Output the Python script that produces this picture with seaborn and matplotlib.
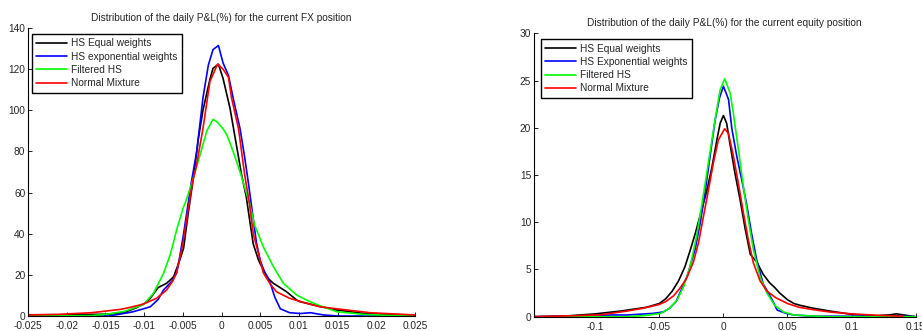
import numpy as np
import pandas as pd
import seaborn as sns
import matplotlib
matplotlib.use('Agg')
import matplotlib.pyplot as plt

# ---- FX position: kernel density curves ----
fx_eq_x = [-0.025, -0.0198, -0.0146, -0.0125, -0.011, -0.0099, -0.0092, -0.0082, -0.0071, -0.0062,
           -0.0055, -0.0049, -0.0043, -0.0036, -0.003, -0.0024, -0.0015, -0.0011, -0.0004, 0.0002,
           0.0011, 0.0017, 0.0026, 0.0032, 0.0037, 0.0041, 0.0048, 0.0054, 0.0061, 0.0067,
           0.0075, 0.0084, 0.0097, 0.0101, 0.0123, 0.0149, 0.0183, 0.0226, 0.025]
fx_eq_y = [0.6, 0.6, 0.9, 1.8, 4, 6.2, 8.6, 13.8, 15.9, 19,
           26, 33, 50, 68, 86, 100, 115, 120.4, 122.4, 115.5,
           101, 88, 68.5, 58, 45, 35, 27, 22.4, 18, 15.9,
           14, 11.8, 7.8, 7, 5, 2.9, 1.3, 0.4, 0.2]

fx_exp_x = [-0.025, -0.0146, -0.0133, -0.0122, -0.0114, -0.0099, -0.0092, -0.0082, -0.0075, -0.0064,
            -0.0058, -0.0054, -0.0049, -0.0045, -0.0039, -0.0032, -0.0024, -0.0017, -0.0011, -0.0004,
            0.0002, 0.0009, 0.0015, 0.0024, 0.003, 0.0035, 0.004, 0.0045, 0.005, 0.0056,
            0.0063, 0.0069, 0.0076, 0.0088, 0.0102, 0.0115, 0.0132, 0.015, 0.025]
fx_exp_y = [0, 0, 0.8, 1.5, 2.1, 3.7, 4.5, 8, 12.6, 17,
            21, 28.8, 40, 50, 65, 80, 106, 122, 129.5, 131.5,
            123, 117, 106, 91, 77, 64, 50, 36, 27, 21,
            16, 9, 3.5, 1.6, 1.2, 1.6, 0.5, 0, 0]

fx_fhs_x = [-0.025, -0.0168, -0.0146, -0.0125, -0.0101, -0.0088, -0.0075, -0.0066, -0.0058, -0.005,
            -0.0045, -0.0038, -0.0028, -0.0019, -0.0011, -0.0006, 0.0002, 0.0007, 0.0015, 0.0024,
            0.0028, 0.0036, 0.0043, 0.0054, 0.0067, 0.008, 0.0097, 0.0114, 0.0127, 0.0149,
            0.0183, 0.0226, 0.025]
fx_fhs_y = [0, 0.2, 1.0, 2.3, 5.5, 11, 20.7, 30, 41.8, 52,
            57, 65, 78, 90, 95.6, 94.5, 91, 88, 80, 70,
            65, 55, 44, 33.7, 24, 15.9, 10.2, 7, 5, 2.1,
            0.8, 0.15, 0]

fx_nm_x = [-0.025, -0.0211, -0.0168, -0.0131, -0.0118, -0.0101, -0.0084, -0.0071, -0.0063, -0.0058,
           -0.005, -0.0043, -0.0037, -0.0033, -0.0024, -0.0015, -0.0005, 0.0002, 0.0009, 0.0013,
           0.0022, 0.003, 0.0036, 0.0041, 0.0048, 0.0054, 0.0063, 0.0071, 0.0088, 0.011,
           0.0127, 0.0149, 0.0192, 0.025]
fx_nm_y = [0.5, 0.8, 1.6, 3.2, 4.2, 5.8, 8.6, 12.6, 17, 21,
           35, 52, 66, 72, 91, 114, 122.5, 120, 116, 106,
           91, 68.5, 55, 40, 30, 21, 15.5, 11.8, 8.6, 6.2,
           4.5, 3.5, 1.6, 0.5]

# ---- Equity position ----
eq_eq_x = [-0.148, -0.12, -0.1, -0.08, -0.06, -0.05, -0.045, -0.04, -0.035, -0.03,
           -0.026, -0.022, -0.018, -0.013, -0.009, -0.005, -0.0025, 0.0, 0.0025, 0.005,
           0.009, 0.013, 0.017, 0.021, 0.026, 0.031, 0.036, 0.04, 0.044, 0.05,
           0.055, 0.06, 0.07, 0.083, 0.1, 0.12, 0.13, 0.135, 0.14, 0.15]
eq_eq_y = [0, 0.1, 0.3, 0.6, 1.0, 1.4, 1.9, 2.7, 3.8, 5.3,
           7.0, 8.8, 10.8, 13.3, 15.8, 18.8, 20.5, 21.3, 20.5, 18.4,
           15.2, 12.4, 9.3, 6.6, 5.8, 4.5, 3.6, 3.1, 2.5, 1.8,
           1.4, 1.2, 0.9, 0.6, 0.25, 0.1, 0.2, 0.3, 0.2, 0]

eq_exp_x = [-0.148, -0.1, -0.088, -0.075, -0.055, -0.047, -0.042, -0.037, -0.033, -0.028,
            -0.022, -0.018, -0.0143, -0.0104, -0.0065, -0.003, 0.0, 0.004, 0.0065, 0.0104,
            0.0143, 0.018, 0.022, 0.026, 0.031, 0.038, 0.042, 0.049, 0.055, 0.07,
            0.1, 0.13, 0.15]
eq_exp_y = [0, 0.07, 0.18, 0.18, 0.35, 0.5, 0.9, 1.6, 2.8, 4.4,
            7.2, 10, 13.2, 17, 20.8, 23.2, 24.4, 23, 20, 17,
            14.5, 12, 8.8, 6, 3.5, 1.8, 0.7, 0.35, 0.18, 0.05,
            0.05, 0.1, 0]

eq_fhs_x = [-0.148, -0.075, -0.06, -0.049, -0.042, -0.036, -0.031, -0.026, -0.021, -0.017,
            -0.013, -0.009, -0.0052, -0.0026, 0.001, 0.0052, 0.0078, 0.0117, 0.0156, 0.0195,
            0.0234, 0.0286, 0.034, 0.04, 0.047, 0.055, 0.08, 0.15]
eq_fhs_y = [0, 0, 0.14, 0.35, 0.9, 1.8, 3.2, 5.3, 8.5, 11.7,
            15.2, 18.7, 21.9, 24, 25.2, 23.7, 21.5, 17.7, 13.8, 10.2,
            7.1, 4.2, 2.5, 1.2, 0.5, 0.18, 0, 0]

eq_nm_x = [-0.148, -0.117, -0.096, -0.075, -0.0625, -0.05, -0.045, -0.039, -0.034, -0.029,
           -0.0234, -0.0195, -0.0156, -0.0117, -0.0078, -0.004, 0.001, 0.004, 0.0078, 0.0117,
           0.0156, 0.0195, 0.0234, 0.0286, 0.034, 0.041, 0.05, 0.059, 0.07, 0.083,
           0.1, 0.12, 0.14]
eq_nm_y = [0, 0.1, 0.2, 0.6, 0.9, 1.3, 1.6, 2.2, 3.0, 4.0,
           5.8, 7.8, 10.6, 13.4, 16.3, 18.7, 19.9, 19.4, 17, 14.1,
           11, 8.1, 5.7, 3.8, 2.7, 2.0, 1.4, 1.0, 0.75, 0.5,
           0.3, 0.15, 0.05]

fx_labels = ['HS Equal weights', 'HS exponential weights', 'Filtered HS', 'Normal Mixture']
eq_labels = ['HS Equal weights', 'HS Exponential weights', 'Filtered HS', 'Normal Mixture']
colors = ['#000000', '#0000ff', '#00ff00', '#ff0000']

fx_curves = [(fx_eq_x, fx_eq_y), (fx_exp_x, fx_exp_y), (fx_fhs_x, fx_fhs_y), (fx_nm_x, fx_nm_y)]
eq_curves = [(eq_eq_x, eq_eq_y), (eq_exp_x, eq_exp_y), (eq_fhs_x, eq_fhs_y), (eq_nm_x, eq_nm_y)]

sns.set_style('white')
plt.rcParams['font.family'] = ['Liberation Sans', 'DejaVu Sans']
plt.rcParams['xtick.direction'] = 'in'
plt.rcParams['ytick.direction'] = 'in'

FS = 7.3

fig = plt.figure(figsize=(9.22, 3.31), dpi=100)
ax1 = fig.add_axes([0.0304, 0.0453, 0.4197, 0.870])
ax2 = fig.add_axes([0.579, 0.0432, 0.414, 0.856])


def draw(ax, curves, labels, title, anchor):
    for (x, y), lab, c in zip(curves, labels, colors):
        sns.lineplot(x=x, y=y, ax=ax, color=c, lw=1.2, label=lab, sort=False)
    ax.set_title(title, fontsize=FS, pad=5)
    sns.despine(ax=ax)
    for s in ['left', 'bottom']:
        ax.spines[s].set_color('black')
        ax.spines[s].set_linewidth(0.8)
    ax.tick_params(axis='both', labelsize=FS, length=3, width=0.6, color='black',
                   bottom=True, left=True)
    ax.tick_params(axis='x', pad=3.5)
    ax.tick_params(axis='y', pad=2)
    ax.set_xlabel('')
    ax.set_ylabel('')
    leg = ax.legend(loc='upper left', bbox_to_anchor=anchor, borderaxespad=0, fontsize=FS,
                    frameon=True, fancybox=False, framealpha=1, edgecolor='black',
                    handlelength=3.0, handletextpad=0.45, labelspacing=0.32, borderpad=0.45)
    leg.get_frame().set_linewidth(1.0)


draw(ax1, fx_curves, fx_labels, 'Distribution of the daily P&L(%) for the current FX position', (0.01, 0.98))
ax1.set_xlim(-0.025, 0.025)
ax1.set_ylim(0, 140)
ax1.set_xticks(np.arange(-0.025, 0.0251, 0.005))
ax1.set_xticklabels(['-0.025', '-0.02', '-0.015', '-0.01', '-0.005', '0', '0.005', '0.01', '0.015', '0.02', '0.025'])
ax1.set_yticks(np.arange(0, 141, 20))

draw(ax2, eq_curves, eq_labels, 'Distribution of the daily P&L(%) for the current equity position', (0.018, 0.98))
ax2.set_xlim(-0.148, 0.15)
ax2.set_ylim(0, 30)
ax2.set_xticks([-0.1, -0.05, 0, 0.05, 0.1, 0.15])
ax2.set_xticklabels(['-0.1', '-0.05', '0', '0.05', '0.1', '0.15'])
ax2.set_yticks(np.arange(0, 31, 5))

fig.savefig('out.png', dpi=100)
